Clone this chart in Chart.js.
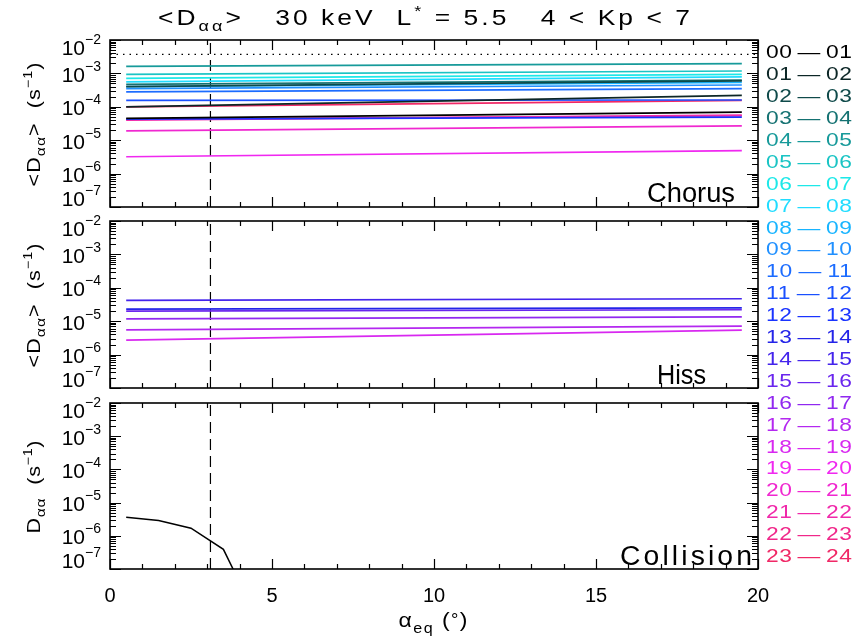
<!DOCTYPE html>
<html>
<head>
<meta charset="utf-8">
<script src="https://cdn.jsdelivr.net/npm/chart.js@4.4.0/dist/chart.umd.min.js"></script>
<style>
  body { margin: 0; background: #fff; }
  #wrap { position: relative; width: 852px; height: 640px; }
  canvas { position: absolute; left: 0; top: 0; }
</style>
</head>
<body>
<div id="wrap">
  <canvas id="chorus" width="852" height="640"></canvas>
  <canvas id="hiss" width="852" height="640"></canvas>
  <canvas id="coll" width="852" height="640"></canvas>
</div>
<script>
// --- data ---
const hours = ['00-01','01-02','02-03','03-04','04-05','05-06','06-07','07-08',
  '08-09','09-10','10-11','11-12','12-13','13-14','14-15','15-16','16-17',
  '17-18','18-19','19-20','20-21','21-22','22-23','23-24'];
const hourColors = ['#000000','#0c2626','#0f4a4a','#157272','#179a9a','#1ac4c4',
  '#1de8e8','#20dcff','#18b4ff','#2090ff','#1c6cff','#1a50ff','#1a34ff','#2424e8',
  '#4424ec','#6a26ee','#9028f0','#b428f0','#d828f0','#f028f0','#f028d0','#f028aa',
  '#f0288a','#f02866'];

const alphaEnds = [0.5, 19.5];
// chorus <Daa> at alpha = 0.5 and 19.5 deg (null = no chorus that hour)
const chorusStart = [4.5e-5, 1.0e-4, 4.0e-4, 4.7e-4, 1.63e-3, 9.4e-4, 7.1e-4, 5.6e-4,
  4.0e-4, 3.5e-4, 2.8e-4, 1.55e-4, 4.3e-5, null, null, null, null, null, null,
  3.2e-6, 1.9e-5, 4.0e-5, 4.2e-5, 1.0e-4];
const chorusEnd = [6.9e-5, 2.2e-4, 6.0e-4, 6.3e-4, 1.95e-3, 1.18e-3, 9.4e-4, 7.9e-4,
  5.4e-4, 4.5e-4, 3.5e-4, 1.6e-4, 4.9e-5, null, null, null, null, null, null,
  4.9e-6, 2.7e-5, 5.6e-5, 5.4e-5, 1.55e-4];
// hiss <Daa>
const hissStart = [null, null, null, null, null, null, null, null, null, null, null, null, null,
  2.3e-5, 4.2e-5, 2.0e-5, 1.17e-5, 5.5e-6, 2.7e-6, null, null, null, null, null];
const hissEnd = [null, null, null, null, null, null, null, null, null, null, null, null, null,
  2.5e-5, 4.7e-5, 2.2e-5, 1.35e-5, 7.1e-6, 5.4e-6, null, null, null, null, null];
// collisional Daa
const collAlpha = [0.5, 1.5, 2.5, 3.5, 4.5];
const collD = [3.6e-6, 2.9e-6, 1.7e-6, 3.9e-7, 4e-9];

const strongLimit = 3.7e-3;   // dotted line, chorus panel
const lossCone = 3.1;         // dashed vertical line, deg

const xTicks = [0, 5, 10, 15, 20];
const yExps = [-2, -3, -4, -5, -6, -7];

const FONT = '"Liberation Sans", Arial, sans-serif';

// draw a run of text pieces (sub/superscripts), optionally widened to a width
function rich(ctx, segs, x, y, align, target, maxStretch) {
  let nat = 0, n = 0;
  segs.forEach(s => {
    ctx.font = s.size + 'px ' + FONT;
    ctx.letterSpacing = '0px';
    s.w = ctx.measureText(s.t).width;
    s.n = [...s.t].length;
    nat += s.w; n += s.n;
  });
  let sx = 1, sp = 0;
  if (target) {
    sx = Math.min(maxStretch || 1, target / nat);
    sp = (target - nat * sx) / Math.max(n - 1, 1);
  }
  const total = nat * sx + sp * (n - 1);
  let cx = align === 'center' ? x - total / 2 : align === 'right' ? x - total : x;
  ctx.textAlign = 'left';
  ctx.textBaseline = 'alphabetic';
  segs.forEach(s => {
    ctx.save();
    ctx.translate(cx, y + (s.dy || 0));
    ctx.scale(sx, 1);
    ctx.font = s.size + 'px ' + FONT;
    ctx.letterSpacing = (sp / sx) + 'px';
    ctx.fillText(s.t, 0, 0);
    ctx.restore();
    cx += s.w * sx + sp * s.n;
  });
  ctx.letterSpacing = '0px';
}

function seg(t, size, dy) { return { t: t, size: size, dy: dy || 0 }; }

function panelPlugin(cfg) {
  return {
    id: 'idlPanel',
    afterDatasetsDraw(chart) {
      const ctx = chart.ctx, a = chart.chartArea;
      const xs = chart.scales.x, ys = chart.scales.y;
      ctx.save();
      ctx.strokeStyle = '#000';
      ctx.fillStyle = '#000';
      ctx.lineWidth = 1.2;
      ctx.beginPath();
      for (let v = 0; v <= 20; v++) {
        const px = Math.round(xs.getPixelForValue(v)) + 0.5;
        const L = v % 5 === 0 ? 10 : 5;
        ctx.moveTo(px, a.top); ctx.lineTo(px, a.top + L);
        ctx.moveTo(px, a.bottom); ctx.lineTo(px, a.bottom - L);
      }
      for (let e = -7; e <= -2; e++) {
        for (let m = 1; m < 10; m++) {
          if (e === -2 && m > 1) break;
          const py = Math.round(ys.getPixelForValue(m * Math.pow(10, e))) + 0.5;
          const L = m === 1 ? 11 : 6;
          ctx.moveTo(a.left, py); ctx.lineTo(a.left + L, py);
          ctx.moveTo(a.right, py); ctx.lineTo(a.right - L, py);
        }
      }
      ctx.stroke();
      ctx.lineWidth = 1.6;
      ctx.strokeRect(a.left, a.top, a.right - a.left, a.bottom - a.top);

      // y tick labels
      yExps.forEach(e => {
        const py = ys.getPixelForValue(Math.pow(10, e));
        let base = py + 8.5;
        if (e === -2) base = py + 15;
        if (e === -7) base = py - 1;
        rich(ctx, [seg('10', 21), seg('\u2212' + (-e), 14, -11)], 101, base, 'right');
      });

      // y title (rotated)
      ctx.save();
      ctx.translate(40, (a.top + a.bottom) / 2 + 1);
      ctx.rotate(-Math.PI / 2);
      rich(ctx, cfg.ytitle, 0, 0, 'center', cfg.ytitleW, 1.2);
      ctx.restore();

      // panel label
      rich(ctx, [seg(cfg.label, 27)], cfg.labelX, cfg.labelY, 'right', cfg.labelW, 1.05);

      if (cfg.xlabels) {
        xTicks.forEach(v => {
          rich(ctx, [seg(String(v), 20)], xs.getPixelForValue(v), 602, 'center');
        });
        rich(ctx, [seg('\u03b1', 20), seg('eq', 14, 6), seg(' (', 20), seg('\u00b0', 16, -2), seg(')', 20)],
          433, 627, 'center', 69, 1.15);
      }

      if (cfg.top) {
        rich(ctx, [seg('<D', 22), seg('\u03b1\u03b1', 15, 6), seg('>   30 keV  L', 22),
          seg('*', 15, -9), seg(' = 5.5   4 < Kp < 7', 22)], 424, 25, 'center', 532, 1.2);
        hours.forEach((h, i) => {
          ctx.fillStyle = hourColors[i];
          rich(ctx, [seg(h.replace('-', '\u2009\u2014\u2009'), 19)], 766, 58.3 + 21.9 * i, 'left', 86, 1.2);
        });
      }
      ctx.restore();
    }
  };
}

function hourSets(start, end) {
  const out = [];
  hours.forEach((h, i) => {
    if (start[i] === null) return;
    out.push({
      label: h,
      data: [{ x: alphaEnds[0], y: start[i] }, { x: alphaEnds[1], y: end[i] }],
      borderColor: hourColors[i], borderWidth: 1.7
    });
  });
  return out;
}

function lossConeSet() {
  return { data: [{ x: lossCone, y: 1e-7 }, { x: lossCone, y: 1e-2 }],
    borderColor: '#000', borderWidth: 1.2, borderDash: [11, 6] };
}

function makeChart(id, top, bottom, datasets, cfg) {
  return new Chart(document.getElementById(id), {
    type: 'line',
    data: { datasets: datasets },
    options: {
      responsive: false,
      animation: false,
      events: [],
      layout: { padding: { left: 110, right: 94, top: top, bottom: 640 - bottom } },
      scales: {
        x: { type: 'linear', min: 0, max: 20, display: false },
        y: { type: 'logarithmic', min: 1e-7, max: 1e-2, display: false }
      },
      elements: { point: { radius: 0 }, line: { tension: 0 } },
      plugins: { legend: { display: false }, title: { display: false }, tooltip: { enabled: false } }
    },
    plugins: [panelPlugin(cfg)]
  });
}

const chorusSets = hourSets(chorusStart, chorusEnd);
chorusSets.push({ data: [{ x: 0, y: strongLimit }, { x: 20, y: strongLimit }],
  borderColor: '#000', borderWidth: 1.3, borderDash: [1.5, 5] });
chorusSets.push(lossConeSet());

const hissSets = hourSets(hissStart, hissEnd);
hissSets.push(lossConeSet());

const collSets = [{ data: collAlpha.map((v, i) => ({ x: v, y: collD[i] })),
  borderColor: '#000', borderWidth: 1.5 }, lossConeSet()];

const avgTitle = [seg('<D', 18), seg('\u03b1\u03b1', 13, 5), seg('>  (s', 18), seg('\u22121', 12, -8), seg(')', 18)];

makeChart('chorus', 40, 207, chorusSets,
  { ytitle: avgTitle, ytitleW: 124, label: 'Chorus', labelX: 735, labelY: 202, labelW: 88, top: true });
makeChart('hiss', 221, 388, hissSets,
  { ytitle: avgTitle, ytitleW: 124, label: 'Hiss', labelX: 706, labelY: 384, labelW: 49 });
makeChart('coll', 403, 569, collSets,
  { ytitle: [seg('D', 18), seg('\u03b1\u03b1', 13, 5), seg('  (s', 18), seg('\u22121', 12, -8), seg(')', 18)],
    ytitleW: 93, label: 'Collision', labelX: 752, labelY: 565, labelW: 132, xlabels: true });
</script>
</body>
</html>
